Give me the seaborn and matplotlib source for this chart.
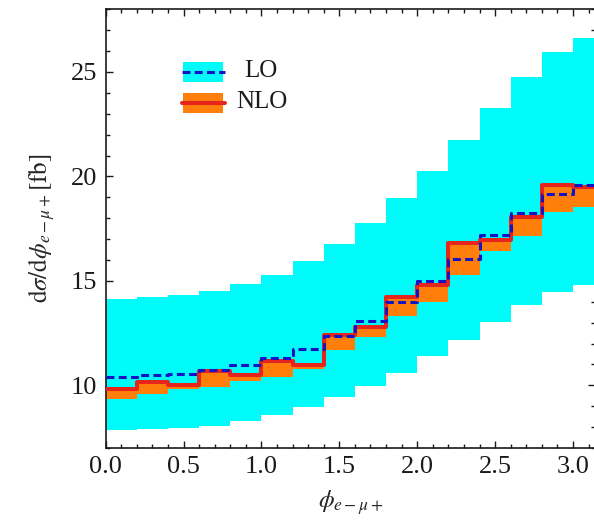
import numpy as np
import pandas as pd
import matplotlib
matplotlib.use("Agg")
import matplotlib.pyplot as plt
import seaborn as sns
from matplotlib.patches import Rectangle
from matplotlib.lines import Line2D
from matplotlib.ticker import MultipleLocator, FormatStrFormatter

# Azimuthal-angle bins (last bin closes at pi)
bin_edges = [0.0, 0.2, 0.4, 0.6, 0.8, 1.0, 1.2, 1.4, 1.6, 1.8,
             2.0, 2.2, 2.4, 2.6, 2.8, 3.0, np.pi]

# LO prediction with scale-variation band [fb]
lo_central = [10.40, 10.51, 10.56, 10.72, 10.96, 11.32, 11.75, 12.34,
              13.07, 13.98, 14.98, 16.05, 17.20, 18.25, 19.16, 19.59]
lo_lower = [7.88, 7.91, 7.96, 8.06, 8.29, 8.57, 8.96, 9.44,
            9.97, 10.61, 11.39, 12.19, 13.05, 13.86, 14.48, 14.80]
lo_upper = [14.14, 14.22, 14.30, 14.51, 14.86, 15.30, 15.94, 16.77,
            17.75, 18.95, 20.24, 21.74, 23.27, 24.76, 25.97, 26.61]

# NLO prediction with scale-variation band [fb]
nlo_central = [9.84, 10.16, 10.00, 10.67, 10.48, 11.16, 10.96, 12.39,
               12.79, 14.22, 14.78, 16.80, 16.96, 18.04, 19.59, 19.48]
nlo_lower = [9.36, 9.60, 9.84, 9.92, 10.19, 10.40, 10.80, 11.67,
             12.31, 13.34, 13.98, 15.26, 16.42, 17.17, 18.28, 18.52]
nlo_upper = [9.84, 10.16, 10.00, 10.67, 10.48, 11.16, 10.96, 12.39,
             12.79, 14.22, 14.78, 16.80, 16.96, 18.04, 19.59, 19.48]

CYAN = "#00fbfb"
ORANGE = "#ff7f0a"
RED = "#e6261c"
BLUE = "#1414c4"

sns.set_theme(style="ticks")
plt.rcParams["font.family"] = ["Liberation Serif", "DejaVu Serif"]
plt.rcParams["mathtext.fontset"] = "stix"

fig = plt.figure(figsize=(5.94, 5.2), dpi=100)
ax = fig.add_axes([0.178, 0.1385, 0.8237, 0.8436])

edges = np.asarray(bin_edges)
centers = 0.5 * (edges[:-1] + edges[1:])
df = pd.DataFrame({"phi": centers, "lo": lo_central, "nlo": nlo_central})

# uncertainty bands
ax.stairs(lo_upper, edges, baseline=lo_lower, fill=True, color=CYAN,
          linewidth=0, zorder=1)
ax.stairs(nlo_upper, edges, baseline=nlo_lower, fill=True, color=ORANGE,
          linewidth=0, zorder=2)

# central predictions as step histograms
sns.histplot(data=df, x="phi", weights="nlo", bins=list(bin_edges),
             element="step", fill=False, color=RED, linewidth=2.9,
             ax=ax, zorder=3)
sns.histplot(data=df, x="phi", weights="lo", bins=list(bin_edges),
             element="step", fill=False, color=BLUE, linewidth=2.2,
             dashes=(2.6, 1.4), ax=ax, zorder=4)

ax.set_xlim(0, np.pi)
ax.set_ylim(7, 28)
ax.xaxis.set_major_locator(MultipleLocator(0.5))
ax.xaxis.set_minor_locator(MultipleLocator(0.1))
ax.yaxis.set_major_locator(MultipleLocator(5))
ax.yaxis.set_minor_locator(MultipleLocator(1))
ax.xaxis.set_major_formatter(FormatStrFormatter("%.1f"))
ax.tick_params(which="both", direction="in", top=True, right=True,
               labelsize=19, colors="#1a1a1a", width=1.0)
ax.tick_params(which="major", length=5, pad=6)
ax.tick_params(which="minor", length=3)
for s in ax.spines.values():
    s.set_linewidth(1.2)
    s.set_color("#1a1a1a")

ax.set_xlabel(r"$\phi_{e-\mu+}$", fontsize=18, labelpad=7)
ax.set_ylabel(r"$\mathrm{d}\sigma/\mathrm{d}\phi_{e-\mu+}[\mathrm{fb}]$",
              fontsize=18)
ax.yaxis.set_label_coords(-0.10, 0.5)

# legend: band swatches with the central line across them
tr = ax.transAxes
ax.add_patch(Rectangle((0.158, 0.834), 0.082, 0.046, transform=tr,
                       color=CYAN, lw=0, zorder=5))
ax.add_line(Line2D([0.155, 0.243], [0.857, 0.857], transform=tr,
                   color=BLUE, lw=2.2, dashes=(2.6, 1.4), zorder=6))
ax.add_patch(Rectangle((0.158, 0.764), 0.082, 0.046, transform=tr,
                       color=ORANGE, lw=0, zorder=5))
ax.add_line(Line2D([0.155, 0.243], [0.787, 0.787], transform=tr,
                   color=RED, lw=2.9, zorder=6))
ax.text(0.316, 0.859, "LO", transform=tr, ha="center", va="center",
        fontsize=18, color="#1a1a1a")
ax.text(0.319, 0.789, "NLO", transform=tr, ha="center", va="center",
        fontsize=18, color="#1a1a1a")

fig.savefig("out.png", dpi=100)
